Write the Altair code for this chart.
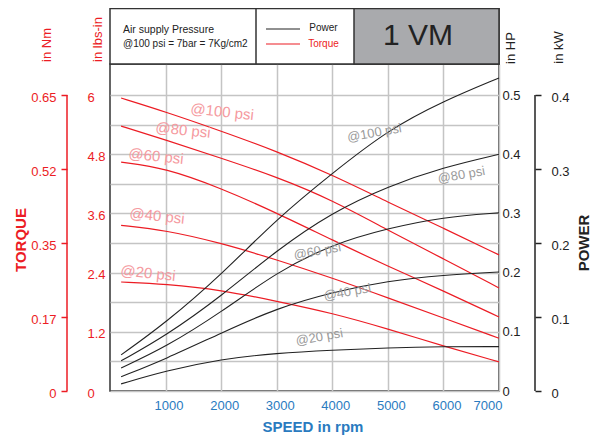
import altair as alt
import pandas as pd

# ---------------- colours / fonts ----------------
RED = "#ec1c24"
PINK = "#f59aa0"
GRAY = "#9a9a9a"
BLUE = "#2a7bbf"
DARK = "#222222"
FRAME = "#333333"
GRID = "#c4c4c4"
HEAD_GRAY = "#a9aaad"
SANS = "Liberation Sans, Arial, sans-serif"

# ---------------- data ----------------
rpm = [200, 1000, 2000, 3000, 4000, 5000, 6000, 7000]
psi = ["@100 psi", "@80 psi", "@60 psi", "@40 psi", "@20 psi"]

# torque in lbs-in
torque_100 = [5.94, 5.66, 5.27, 4.86, 4.38, 3.83, 3.30, 2.76]
torque_80 = [5.37, 5.09, 4.72, 4.34, 3.87, 3.26, 2.68, 2.09]
torque_60 = [4.64, 4.52, 4.11, 3.61, 3.06, 2.53, 2.03, 1.50]
torque_40 = [3.36, 3.26, 3.00, 2.66, 2.29, 1.89, 1.48, 1.07]
torque_20 = [2.21, 2.17, 2.05, 1.82, 1.58, 1.26, 0.91, 0.59]

# power in HP
power_100 = [0.061, 0.115, 0.196, 0.291, 0.368, 0.441, 0.490, 0.529]
power_80 = [0.051, 0.093, 0.160, 0.238, 0.302, 0.346, 0.378, 0.400]
power_60 = [0.039, 0.074, 0.133, 0.201, 0.248, 0.275, 0.294, 0.301]
power_40 = [0.024, 0.054, 0.098, 0.140, 0.167, 0.186, 0.196, 0.201]
power_20 = [0.012, 0.034, 0.054, 0.064, 0.069, 0.073, 0.075, 0.075]

# curve label positions
torque_label_rpm = [2018, 1315, 829, 847, 685]
torque_label_val = [5.66, 5.29, 4.76, 3.55, 2.39]
power_label_rpm = [4757, 6324, 3730, 4270, 3766]
power_label_hp = [0.436, 0.365, 0.236, 0.167, 0.091]

# axis ticks
speed_ticks = [1000, 2000, 3000, 4000, 5000, 6000, 7000]
lbs_ticks = [0, 1.2, 2.4, 3.6, 4.8, 6]
hp_ticks = [0, 0.05, 0.1, 0.15, 0.2, 0.25, 0.3, 0.35, 0.4, 0.45, 0.5]
nm_labels = ["0", "0.17", "0.35", "0.52", "0.65"]
kw_ticks = [0, 0.1, 0.2, 0.3, 0.4]

# ---------------- geometry ----------------
W, H = 389, 327
LBS_TOP = 6.63
HP_TOP = LBS_TOP / 12
NM_TOP = 0.65 * LBS_TOP / 6
KW_TOP = 0.4 * LBS_TOP / 6
NM_STEP = 0.65 / (len(nm_labels) - 1)
nm_pos = [i * NM_STEP for i in range(len(nm_labels))]
TICK_FS = 13

torque_series = [torque_100, torque_80, torque_60, torque_40, torque_20]
power_series = [power_100, power_80, power_60, power_40, power_20]

torque_df = pd.DataFrame([
    {"rpm": r, "val": v, "psi": p}
    for p, s in zip(psi, torque_series) for r, v in zip(rpm, s)
])
power_df = pd.DataFrame([
    {"rpm": r, "hp": v, "psi": p}
    for p, s in zip(psi, power_series) for r, v in zip(rpm, s)
])
tlab_df = pd.DataFrame({"rpm": torque_label_rpm, "val": torque_label_val, "text": psi})
plab_df = pd.DataFrame({"rpm": power_label_rpm, "hp": power_label_hp, "text": psi})
one = pd.DataFrame({"k": [0]})

x_axis = alt.Axis(values=speed_ticks, format="d", labelOverlap=False, grid=True,
                  gridColor=GRID, gridWidth=1.5, ticks=False, domain=False,
                  labelColor=BLUE, labelFont=SANS, labelFontSize=TICK_FS,
                  labelPadding=8, labelOffset=3, title=None)


def X(field):
    return alt.X(field, type="quantitative",
                 scale=alt.Scale(domain=[0, 7000], nice=False), axis=x_axis)


lbs_scale = alt.Scale(domain=[0, LBS_TOP], nice=False, zero=False)
hp_scale = alt.Scale(domain=[0, HP_TOP], nice=False, zero=False)

torque_lines = alt.Chart(torque_df).mark_line(
    color=RED, strokeWidth=1.2, interpolate="basis"
).encode(
    x=X("rpm"),
    y=alt.Y("val:Q", scale=lbs_scale,
            axis=alt.Axis(orient="left", values=lbs_ticks, format=".1~f", grid=False,
                          domain=False, ticks=False, labelAlign="left", labelPadding=23,
                          labelColor=RED, labelFont=SANS, labelFontSize=TICK_FS,
                          labelOverlap=False, labelOffset=2, title=None)),
    detail="psi:N",
)

hp_expr = "round(datum.value*100) % 10 == 0 ? format(datum.value, '.1~f') : ''"
power_lines = alt.Chart(power_df).mark_line(
    color=DARK, strokeWidth=1.1, interpolate="basis"
).encode(
    x=X("rpm"),
    y=alt.Y("hp:Q", scale=hp_scale,
            axis=alt.Axis(orient="right", values=hp_ticks, labelExpr=hp_expr, grid=True,
                          gridColor=GRID, gridWidth=1.5, domain=False, ticks=False,
                          labelPadding=3, labelColor=DARK, labelFont=SANS,
                          labelFontSize=TICK_FS, labelOverlap=False, title=None)),
    detail="psi:N",
)

torque_labels = alt.Chart(tlab_df).mark_text(
    color=PINK, font=SANS, fontSize=15, angle=6
).encode(
    x=X("rpm"), y=alt.Y("val:Q", scale=lbs_scale, axis=None), text="text:N"
)

power_labels = alt.Chart(plab_df).mark_text(
    color=GRAY, font=SANS, fontSize=13, angle=350
).encode(
    x=X("rpm"), y=alt.Y("hp:Q", scale=hp_scale, axis=None), text="text:N"
)

nm_expr = "[" + ",".join("'%s'" % s for s in nm_labels) + "][round(datum.value/%r)]" % NM_STEP
nm_df = pd.DataFrame({"lo": [0.0], "hi": [nm_pos[-1]]})
nm_axis = alt.Chart(nm_df).mark_rule(color=RED, strokeWidth=1.5).encode(
    x=alt.value(-43),
    y=alt.Y("lo:Q", scale=alt.Scale(domain=[0, NM_TOP], nice=False, zero=False),
            axis=alt.Axis(orient="left", offset=43, values=nm_pos, labelExpr=nm_expr,
                          domain=False, ticks=True, tickSize=6, tickColor=RED,
                          tickWidth=1.5, labelColor=RED, labelPadding=5, labelFont=SANS,
                          labelFontSize=TICK_FS, labelOverlap=False, labelOffset=2,
                          grid=False, title=None)),
    y2="hi:Q",
)

kw_df = pd.DataFrame({"lo": [0.0], "hi": [kw_ticks[-1]]})
kw_axis = alt.Chart(kw_df).mark_rule(color=DARK, strokeWidth=1.5).encode(
    x=alt.value(W + 36),
    y=alt.Y("lo:Q", scale=alt.Scale(domain=[0, KW_TOP], nice=False, zero=False),
            axis=alt.Axis(orient="right", offset=36, values=kw_ticks, format=".1~f",
                          domain=False, ticks=True, tickSize=6, tickColor=DARK,
                          tickWidth=1.5, labelColor=DARK, labelPadding=10, labelFont=SANS,
                          labelFontSize=TICK_FS, labelOverlap=False, labelOffset=2,
                          grid=False, title=None)),
    y2="hi:Q",
)


def box(x1, x2, y1, y2, fill):
    return alt.Chart(one).mark_rect(fill=fill, stroke=FRAME, strokeWidth=1.5).encode(
        x=alt.value(x1), x2=alt.value(x2), y=alt.value(y1), y2=alt.value(y2))


def seg(x1, x2, y1, y2, color, w=1.2):
    return alt.Chart(one).mark_rule(color=color, strokeWidth=w).encode(
        x=alt.value(x1), x2=alt.value(x2), y=alt.value(y1), y2=alt.value(y2))


def txt(s, x, y, **kw):
    return alt.Chart(one).mark_text(text=s, **kw).encode(x=alt.value(x), y=alt.value(y))


header = [
    box(0, W, -55.5, 0, "white"),
    box(244, W, -55.5, 0, HEAD_GRAY),
    seg(146, 146, -55.5, 0, FRAME, 1.5),
    txt("Air supply Pressure", 13, -34, align="left", baseline="middle",
        font=SANS, fontSize=10.5, color=DARK),
    txt("@100 psi = 7bar = 7Kg/cm2", 13, -20, align="left", baseline="middle",
        font=SANS, fontSize=10, color=DARK),
    seg(156, 190, -35, -35, DARK),
    seg(156, 190, -20, -20, RED),
    txt("Power", 213.5, -36.5, align="center", baseline="middle",
        font=SANS, fontSize=10, color=DARK),
    txt("Torque", 213.5, -20, align="center", baseline="middle",
        font=SANS, fontSize=10, color=RED),
    txt("1 VM", 308, -28, align="center", baseline="middle",
        font=SANS, fontSize=30, color=DARK),
]

titles = [
    txt("in Nm", -63, -19, angle=270, align="center", baseline="middle",
        font=SANS, fontSize=13, color=RED),
    txt("in lbs-in", -12.5, -24.5, angle=270, align="center", baseline="middle",
        font=SANS, fontSize=13, color=RED),
    txt("in HP", 401, -16, angle=270, align="center", baseline="middle",
        font=SANS, fontSize=13, color=DARK),
    txt("in kW", 448.5, -16.5, angle=270, align="center", baseline="middle",
        font=SANS, fontSize=13, color=DARK),
    txt("TORQUE", -89, 176, angle=270, align="center", baseline="middle",
        font=SANS, fontSize=15, fontWeight="bold", color=RED),
    txt("POWER", 474, 179, angle=270, align="center", baseline="middle",
        font=SANS, fontSize=15, fontWeight="bold", color=DARK),
    txt("SPEED in rpm", 203, 363, align="center", baseline="middle",
        font=SANS, fontSize=15, fontWeight="bold", color=BLUE),
]

chart = alt.layer(
    torque_lines, power_lines, torque_labels, power_labels, nm_axis, kw_axis,
    *header, *titles
).resolve_scale(y="independent").properties(
    width=W, height=H,
    autosize=alt.AutoSizeParams(type="none"),
    padding={"left": 102, "top": 56, "right": 92, "bottom": 45},
).configure_view(stroke=FRAME, strokeWidth=1.5)

chart.save("out.html", embed_options={"renderer": "svg", "actions": False})
